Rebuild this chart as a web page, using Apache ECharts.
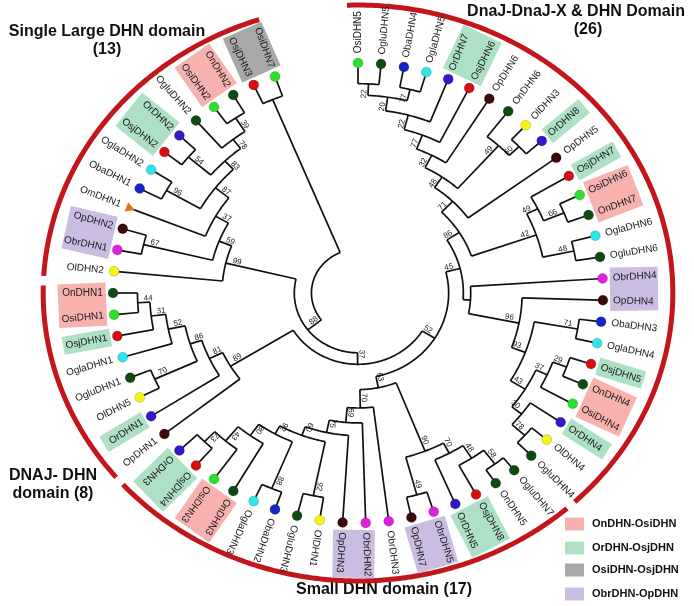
<!DOCTYPE html>
<html><head><meta charset="utf-8">
<script src="https://cdn.jsdelivr.net/npm/echarts@6/dist/echarts.min.js"></script>
<style>html,body{margin:0;padding:0;background:#fff}#c{width:694px;height:606px}</style>
</head><body><div id="c"></div>
<script>
// ---------- DATA ----------
// leaves in clockwise order starting at 12 o'clock
const leafNames = [
 "OsiDHN5","OgluDHN5","ObaDHN4","OglaDHN5","OrDHN7","OsjDHN6","OpDHN6","OnDHN6","OlDHN3","OrDHN8",
 "OpDHN5","OsjDHN7","OsiDHN6","OnDHN7","OglaDHN6","OgluDHN6","ObrDHN4","OpDHN4","ObaDHN3","OglaDHN4",
 "OsjDHN5","OnDHN4","OsiDHN4","OrDHN4","OlDHN4","OgluDHN4",
 "OgluDHN7","OnDHN5","OsjDHN8","OrDHN5","ObrDHN5","OpDHN7","ObrDHN3","ObrDHN2","OpDHN3","OlDHN1",
 "OgluDHN3","ObaDHN2","OglaDHN3","OnDHN3","OsiDHN3","OsjDHN4","OrDHN3",
 "OpDHN1","OrDHN1","OlDHN5","OgluDHN1","OglaDHN1","OsjDHN1","OsiDHN1","OnDHN1",
 "OlDHN2","ObrDHN1","OpDHN2","OmDHN1","ObaDHN1","OglaDHN2","OsjDHN2","OrDHN2","OgluDHN2","OsiDHN2",
 "OnDHN2","OsjDHN3","OsiDHN7"
];
// Newick pieces: internal label = bootstrap, ":x" = node depth from the centre (leaves = 1)
const cladeGrey = "(OsjDHN3,OsiDHN7):0.91";
const cladeSingleLarge = "(OlDHN2,((OpDHN2,ObrDHN1)67:0.9,(OmDHN1,((ObaDHN1,OglaDHN2)96:0.9,((OsjDHN2,OrDHN2)54:0.91,(OgluDHN2,(OsiDHN2,OnDHN2)39:0.91)78:0.84)83:0.79)87:0.74)37:0.67)59:0.61)99:0.555";
const cladeDnajDhn = "(OpDHN1,(OrDHN1,((OlDHN5,OgluDHN1)70:0.91,(OglaDHN1,(OsjDHN1,(OsiDHN1,OnDHN1)44:0.9)31:0.85)52:0.79)86:0.72)81:0.67)89:0.61";
const cladeSmallRight = "((OpDHN7,ObrDHN5)49:0.91,(OrDHN5,(OsjDHN8,(OnDHN5,OgluDHN7)58:0.93)48:0.855)70:0.79)90:0.74";
const cladeSmallLeft = "(ObrDHN3,(ObrDHN2,(OpDHN3,((OlDHN1,OgluDHN3)92:0.9,((ObaDHN2,OglaDHN3)88:0.92,(OnDHN3,(OsiDHN3,(OsjDHN4,OrDHN3)73:0.9)43:0.84)80:0.76)92:0.7)60:0.66)75:0.62)69:0.565)70:0.5";
const cladeDnajXa = "((((((OsiDHN5,OgluDHN5)22:0.91,(ObaDHN4,OglaDHN5)77:0.91)20:0.86,OrDHN7)22:0.8,OsjDHN6)77:0.735,OpDHN6)32:0.67,(OnDHN6,(OlDHN3,OrDHN8)60:0.915)49:0.86)48:0.61";
const cladeDnajXc = "((OsjDHN7,(OsiDHN6,OnDHN7)66:0.91)49:0.82,(OglaDHN6,OgluDHN6)48:0.9)42:0.77";
const cladeDnajXd = "(ObrDHN4,(OpDHN4,((ObaDHN3,OglaDHN4)71:0.91,(((OsjDHN5,OnDHN4)29:0.91,OsiDHN4)37:0.85,(OrDHN4,(OlDHN4,OgluDHN4)78:0.92)30:0.85)43:0.8)93:0.73)96:0.67):0.46";
const treeNewick = "(" + cladeGrey + ",(" + cladeSingleLarge + ",(" + cladeDnajDhn + ",(((" +
  "(" + cladeDnajXa + ",OpDHN5)71:0.555," + cladeDnajXc + ")86:0.49," + cladeDnajXd + ")45:0.43,(" +
  cladeSmallRight + "," + cladeSmallLeft + ")63:0.42)52:0.37)37:0.31)88:0.26):0.19;";

const highlightPairs = [
 ["OsiDHN2","OnDHN2"],["OsiDHN6","OnDHN7"],["OnDHN4","OsiDHN4"],["OnDHN3","OsiDHN3"],["OsiDHN1","OnDHN1"],
 ["OsjDHN2","OrDHN2"],["OrDHN7","OsjDHN6"],["OrDHN8"],["OsjDHN7"],["OsjDHN5"],["OrDHN4"],["OsjDHN8","OrDHN5"],
 ["OsjDHN4","OrDHN3"],["OsjDHN1"],["OrDHN1"],
 ["OsjDHN3","OsiDHN7"],
 ["ObrDHN4","OpDHN4"],["ObrDHN5","OpDHN7"],["ObrDHN2","OpDHN3"],["ObrDHN1","OpDHN2"]
];
const highlightKinds = [0,0,0,0,0, 1,1,1,1,1,1,1,1,1,1, 2, 3,3,3,3];
const legendLabels = ["OnDHN-OsiDHN","OrDHN-OsjDHN","OsiDHN-OsjDHN","ObrDHN-OpDHN"];
const cladeFirstLeaf = ["OsiDHN5","OgluDHN7","OpDHN1","OlDHN2"];
const cladeLastLeaf  = ["OgluDHN4","OrDHN3","OnDHN1","OsiDHN7"];
const cladeTitleLines = [["DnaJ-DnaJ-X & DHN Domain","(26)"],["Small DHN domain (17)"],["DNAJ- DHN","domain (8)"],["Single Large DHN domain","(13)"]];

// ---------- STYLE ----------
const speciesColor = {Osi:'#2ee02e',On:'#0f4a14',Osj:'#d21010',Or:'#3218c8',Ogla:'#2fe3ea',Oglu:'#0f4a14',
  Oba:'#1426c4',Ol:'#f6f214',Op:'#3c0a0a',Obr:'#e020de',Om:'#e2701c'};
const boxColors = ['#f7b2b0','#ade0c5','#a8a8a8','#cbbce2'];
const RING = '#c3151c';
const FONT = '"Liberation Sans", Arial, sans-serif';
const STEP = 5.4, DEG = Math.PI/180, FLIP = 229.5;

// ---------- TREE ----------
function parseNewick(s){
  let i=0;
  function node(){
    const n={children:[]};
    if(s[i]==='('){ i++; n.children.push(node()); while(s[i]===','){i++; n.children.push(node());} i++; }
    let name=''; while(i<s.length && !',():;'.includes(s[i])) name+=s[i++];
    if(s[i]===':'){ i++; let d=''; while(i<s.length && !',();'.includes(s[i])) d+=s[i++]; n.depth=parseFloat(d); }
    n.name=name.trim(); return n;
  }
  return node();
}
const leafIndex={}; leafNames.forEach((n,i)=>leafIndex[n]=i);
const tree=parseNewick(treeNewick);
const internals=[];
(function walk(n){
  if(!n.children.length){ n.leaf=true; n.angle=leafIndex[n.name]*STEP; n.depth=1; return; }
  n.children.forEach(walk);
  const as=n.children.map(c=>c.angle);
  n.amin=Math.min(...as); n.amax=Math.max(...as); n.angle=(n.amin+n.amax)/2;
  internals.push(n);
})(tree);

function P(api,r,c){ const a=c*DEG; return api.coord([r*Math.sin(a), r*Math.cos(a)]); }
function outward(c){ return c<=FLIP; }

function renderBranch(params, api){
  const n=internals[params.dataIndex];
  const ch=[];
  const pts=[];
  for(let c=n.amin;c<n.amax;c+=0.5) pts.push(P(api,n.depth,c));
  pts.push(P(api,n.depth,n.amax));
  ch.push({type:'polyline',shape:{points:pts},style:{stroke:'#111',lineWidth:1.7,fill:null}});
  n.children.forEach(k=>{
    const a=P(api,n.depth,k.angle), b=P(api,k.leaf?0.985:k.depth,k.angle);
    ch.push({type:'line',shape:{x1:a[0],y1:a[1],x2:b[0],y2:b[1]},style:{stroke:'#111',lineWidth:1.7}});
  });
  if(n.name){
    const c=n.angle, p=P(api,n.depth-0.025,c), out=outward(c);
    ch.push({type:'text',x:p[0],y:p[1],rotation:(out?90-c:270-c)*DEG,
      style:{text:n.name,fill:'#222',fontSize:8,fontFamily:FONT,align:out?'right':'left',verticalAlign:'bottom'}});
  }
  return {type:'group',children:ch};
}

function renderLeaf(params, api){
  const name=leafNames[params.dataIndex], c=params.dataIndex*STEP;
  const sp=name.match(/^(O[a-z]+)DHN/)[1];
  const p=P(api,1,c), t=P(api,1.042,c), out=outward(c);
  const ch=[];
  if(sp==='Om'){
    const o=api.coord([0,0]); const dx=o[0]-p[0], dy=o[1]-p[1], L=Math.hypot(dx,dy); const ux=dx/L, uy=dy/L;
    ch.push({type:'polygon',shape:{points:[[p[0]+ux*5,p[1]+uy*5],[p[0]-ux*4-uy*5,p[1]-uy*4+ux*5],[p[0]-ux*4+uy*5,p[1]-uy*4-ux*5]]},
      style:{fill:speciesColor[sp]}});
  } else {
    ch.push({type:'circle',shape:{cx:p[0],cy:p[1],r:5},style:{fill:speciesColor[sp],stroke:'rgba(0,0,0,0.25)',lineWidth:0.6}});
  }
  ch.push({type:'text',x:t[0],y:t[1],rotation:(out?90-c:270-c)*DEG,
    style:{text:name,fill:'#1a1a1a',fontSize:10,fontFamily:FONT,align:out?'left':'right',verticalAlign:'middle'}});
  return {type:'group',children:ch};
}

function renderBox(params, api){
  const grp=highlightPairs[params.dataIndex].map(n=>leafIndex[n]);
  const i0=Math.min(...grp), i1=Math.max(...grp), cm=(i0+i1)/2*STEP;
  const o=api.coord([0,0]), p=P(api,1,cm);
  const dx=p[0]-o[0], dy=p[1]-o[1], L=Math.hypot(dx,dy), ux=dx/L, uy=dy/L, nx=-uy, ny=ux;
  const spPx=L*1.1*STEP*DEG, hw=((i1-i0)*spPx+18)/2, r1=L+7, r2=L+55;
  const pts=[[o[0]+ux*r1+nx*hw,o[1]+uy*r1+ny*hw],[o[0]+ux*r2+nx*hw,o[1]+uy*r2+ny*hw],
             [o[0]+ux*r2-nx*hw,o[1]+uy*r2-ny*hw],[o[0]+ux*r1-nx*hw,o[1]+uy*r1-ny*hw]];
  return {type:'polygon',shape:{points:pts},style:{fill:boxColors[highlightKinds[params.dataIndex]]}};
}

function renderRing(params, api){
  const a0=leafIndex[cladeFirstLeaf[params.dataIndex]]*STEP-2, a1=leafIndex[cladeLastLeaf[params.dataIndex]]*STEP+1.5;
  const pts=[];
  for(let c=a0;c<a1;c+=0.5){ const a=c*DEG; pts.push(api.coord([1.285*Math.sin(a),1.252*Math.cos(a)])); }
  const a=a1*DEG; pts.push(api.coord([1.285*Math.sin(a),1.252*Math.cos(a)]));
  return {type:'polyline',shape:{points:pts},style:{stroke:RING,lineWidth:5,fill:null}};
}

// ---------- TITLES / LEGEND ----------
const titlePos=[[576,12],[384,590],[53,476],[107,32]];
const graphic=[];
cladeTitleLines.forEach((lines,k)=>{
  lines.forEach((tx,j)=>graphic.push({type:'text',x:titlePos[k][0]+(k===0&&j===1?12:0),y:titlePos[k][1]+j*18,
    style:{text:tx,fill:'#111',font:'bold 16px '+FONT,align:'center',verticalAlign:'middle'}}));
});
const legendY=[524,548,570,594];
legendLabels.forEach((tx,k)=>{
  graphic.push({type:'rect',shape:{x:565,y:legendY[k]-6.5,width:19,height:13},style:{fill:boxColors[k]}});
  graphic.push({type:'text',x:592,y:legendY[k],style:{text:tx,fill:'#111',font:'bold 11px '+FONT,align:'left',verticalAlign:'middle'}});
});

const chart=echarts.init(document.getElementById('c'));
const dummy=n=>Array.from({length:n},()=>[0,0]);
chart.setOption({
  animation:false,
  grid:{left:0,right:0,top:0,bottom:0},
  xAxis:{type:'value',min:-1.4612,max:1.3714,show:false},
  yAxis:{type:'value',min:-1.3609,max:1.2739,show:false},
  graphic:graphic,
  series:[
    {type:'custom',renderItem:renderRing,data:dummy(cladeFirstLeaf.length),z:1,silent:true},
    {type:'custom',renderItem:renderBox,data:dummy(highlightPairs.length),z:2,silent:true},
    {type:'custom',renderItem:renderBranch,data:dummy(internals.length),z:3,silent:true},
    {type:'custom',renderItem:renderLeaf,data:dummy(leafNames.length),z:4,silent:true}
  ]
});
</script></body></html>
